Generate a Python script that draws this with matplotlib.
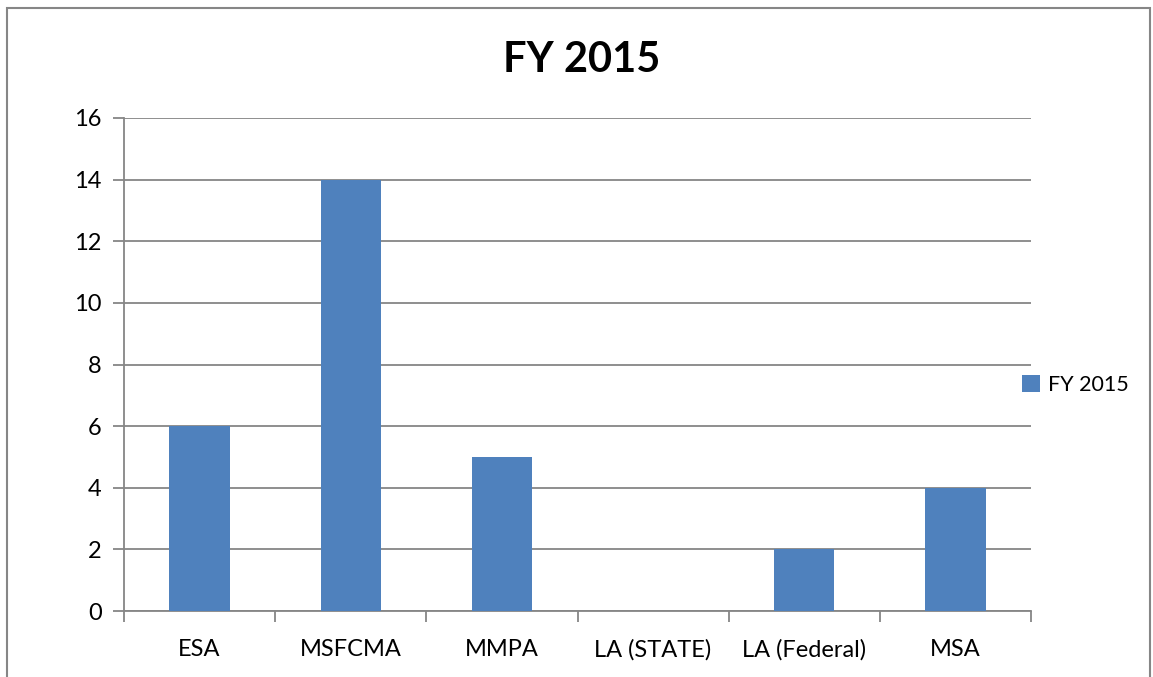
import matplotlib
matplotlib.use("Agg")
import matplotlib.pyplot as plt
from matplotlib.patches import Rectangle

categories = ["ESA", "MSFCMA", "MMPA", "LA (STATE)", "LA (Federal)", "MSA"]
values = [6, 14, 5, 0, 2, 4]
series_name = "FY 2015"
title = "FY 2015"
yticks = [0, 2, 4, 6, 8, 10, 12, 14, 16]

plt.rcParams['font.family'] = ['Lato', 'DejaVu Sans']

W, H = 1153, 677
fig = plt.figure(figsize=(W/100, H/100), dpi=100)
fig.patch.set_facecolor("white")

# outer border
fig.add_artist(Rectangle((7/W, -0.01), (1150-7)/W, 1 - 8/H + 0.01, transform=fig.transFigure,
                         fill=False, edgecolor="#868686", linewidth=1.5))

ax = fig.add_axes([124/W, 1-611/H, (1031-124)/W, (611-118)/H])
grid_color = "#868686"
x = list(range(len(categories)))
bars = ax.bar(x, values, width=0.4, color="#4F81BD", label=series_name, zorder=3)

ax.set_xlim(-0.5, len(categories)-0.5)
ax.set_ylim(0, 16)
ax.set_yticks(yticks)
ax.set_yticklabels([str(t) for t in yticks], fontsize=17)
ax.yaxis.grid(True, color=grid_color, linewidth=1.3, zorder=0)
ax.set_xticks(x)
ax.set_xticklabels(categories, fontsize=17)
ax.set_xticks([i - 0.5 for i in range(len(categories)+1)], minor=True)
ax.tick_params(axis='x', which='major', length=0, pad=20)
ax.tick_params(axis='x', which='minor', length=8, width=1.3, color=grid_color, direction='out')
ax.tick_params(axis='y', length=8, width=1.3, color=grid_color, direction='out', pad=8)

for s in ['top', 'right']:
    ax.spines[s].set_visible(False)
for s in ['left', 'bottom']:
    ax.spines[s].set_color(grid_color)
    ax.spines[s].set_linewidth(1.3)

fig.text(582/W, 1-60/H, title, ha='center', va='center', fontsize=30, fontweight='bold')

leg = fig.legend(handles=[bars], labels=[series_name], loc='center left',
                 bbox_to_anchor=(1003/W, 1-385/H), frameon=False, fontsize=15.5,
                 handlelength=0.8, handleheight=0.8, handletextpad=0.4)

fig.savefig("out.png", dpi=100)
